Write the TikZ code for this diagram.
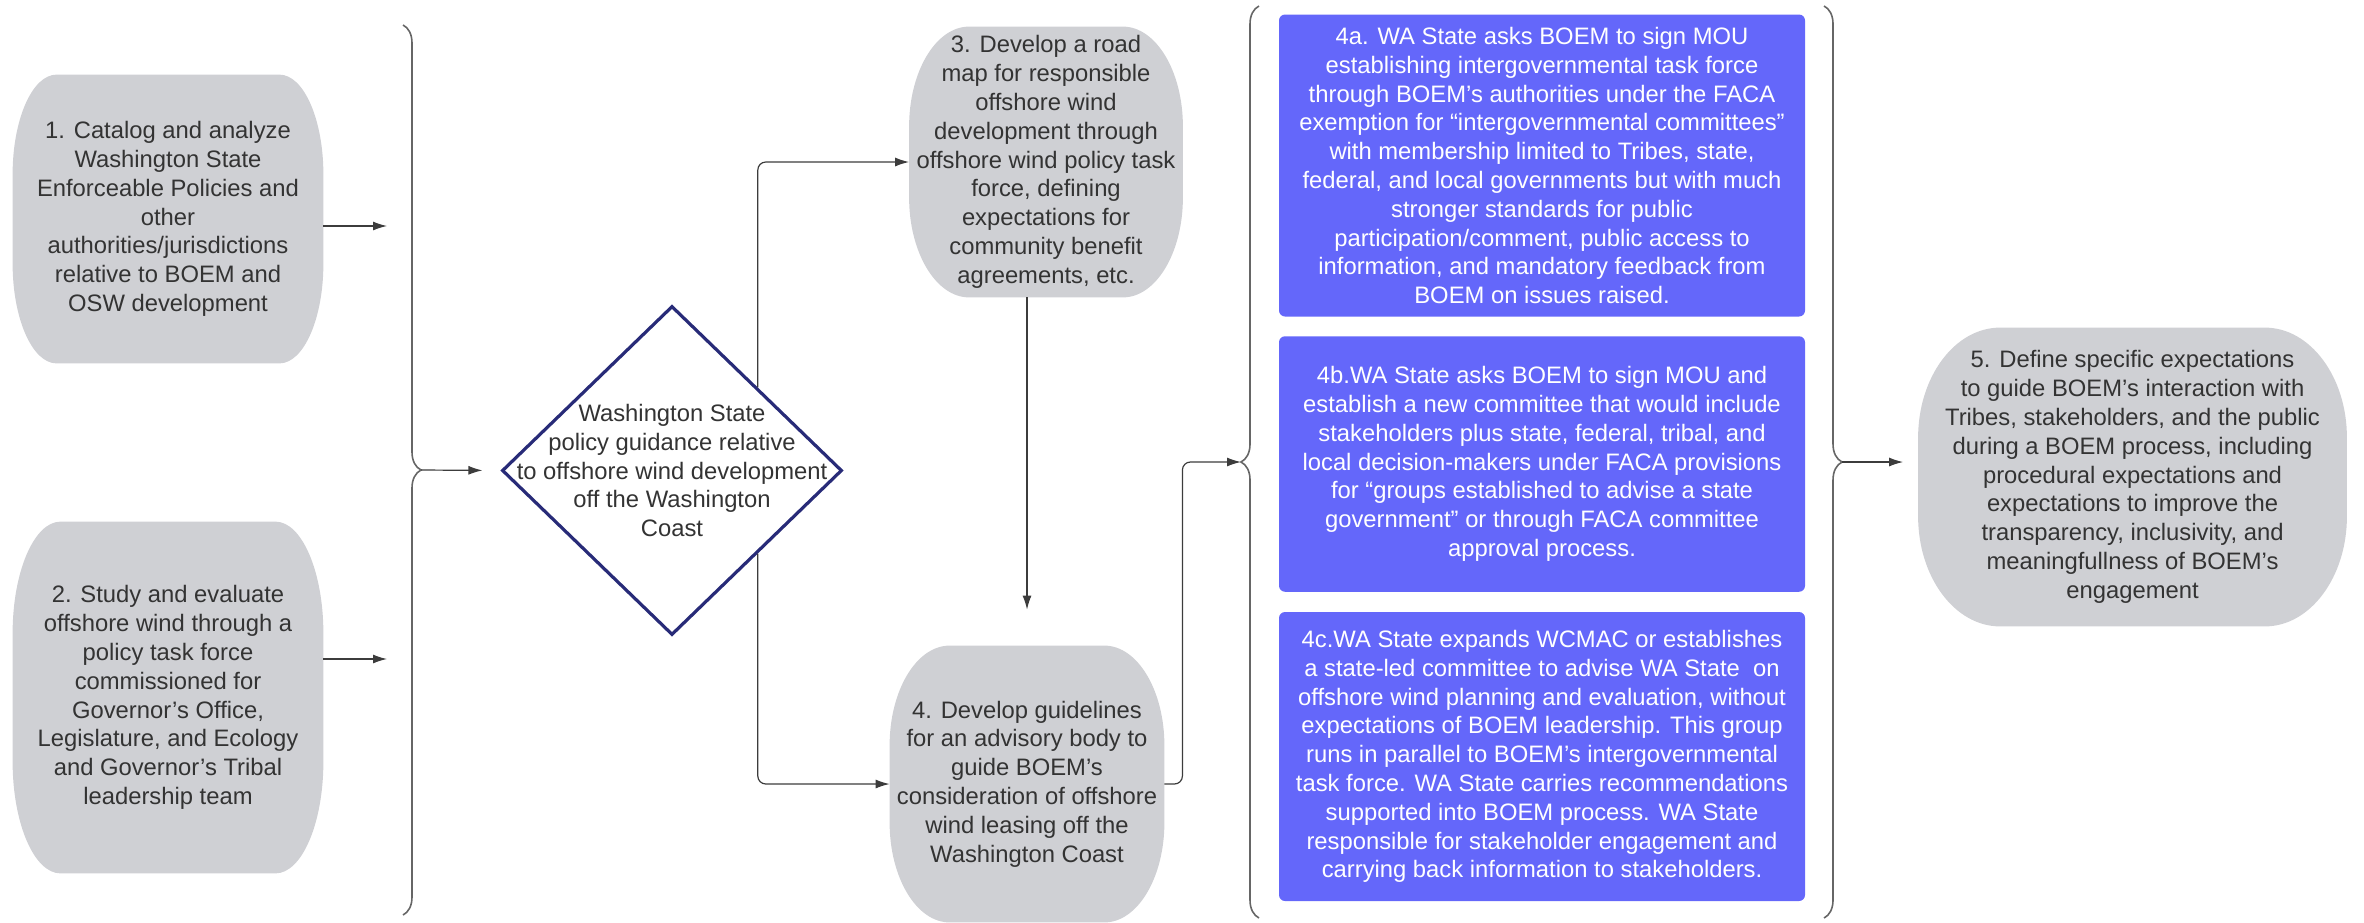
\documentclass[tikz,border=0pt]{standalone}
\usepackage{fontspec}
\setmainfont{Liberation Sans}
\usetikzlibrary{positioning, arrows.meta, calc, backgrounds, shapes.geometric, decorations.pathreplacing}
\definecolor{boxgrey}{RGB}{207,208,212}
\definecolor{optblue}{RGB}{100,103,250}
\definecolor{navy}{RGB}{40,43,120}
\definecolor{ink}{RGB}{51,51,51}
\definecolor{wire}{RGB}{60,60,60}

\begin{document}
\begin{tikzpicture}[x=0.5pt, y=-0.5pt]
		\tikzstyle{box} = [inner sep=0, align=center, text=ink, font=\fontsize{11.9}{14.4}\selectfont]
		\tikzstyle{opt} = [box, fill=optblue, text=white, rounded corners=3pt, minimum width=263pt]
		\tikzstyle{dec} = [diamond, draw=navy, line width=1.6pt, minimum width=170pt, minimum height=164.5pt, inner sep=0]
		\tikzstyle{arr} = [-{Latex[length=7pt,width=4.5pt]}, draw=wire, line width=0.6pt]
		\tikzstyle{curly} = [decorate, decoration={brace, amplitude=9pt}, draw=gray!80!black, line width=0.8pt]
		\useasboundingbox (0,0) rectangle (2364,922);
		
		\node [box, minimum width=155pt, minimum height=144pt] (s1) at (168,219) {1. Catalog and analyze\\Washington State\\Enforceable Policies and\\other\\authorities/jurisdictions\\relative to BOEM and\\OSW development};
		\node [box, minimum width=155pt, minimum height=175.5pt] (s2) at (168,697.5) {2. Study and evaluate\\offshore wind through a\\policy task force\\commissioned for\\Governor's Office,\\Legislature, and Ecology\\and Governor's Tribal\\leadership team};
		\node [dec, label={[box]center:{Washington State\\policy guidance relative\\to offshore wind development\\off the Washington\\Coast}}] (pol) at (672,470.5) {};
		\node [box, minimum width=136.5pt, minimum height=135pt] (s3) at (1046,162) {3. Develop a road\\map for responsible\\offshore wind\\development through\\offshore wind policy task\\force, defining\\expectations for\\community benefit\\agreements, etc.};
		\node [box, minimum width=137pt, minimum height=138pt] (s4) at (1027,784) {4. Develop guidelines\\for an advisory body to\\guide BOEM's\\consideration of offshore\\wind leasing off the\\Washington Coast};
		\node [opt, minimum height=151pt] (s4a) at (1542,165.5) {4a. WA State asks BOEM to sign MOU\\establishing intergovernmental task force\\through BOEM's authorities under the FACA\\exemption for “intergovernmental committees”\\with membership limited to Tribes, state,\\federal, and local governments but with much\\stronger standards for public\\participation/comment, public access to\\information, and mandatory feedback from\\BOEM on issues raised.};
		\node [opt, minimum height=127.75pt] (s4b) at (1542,464) {4b.WA State asks BOEM to sign MOU and\\establish a new committee that would include\\stakeholders plus state, federal, tribal, and\\local decision-makers under FACA provisions\\for “groups established to advise a state\\government” or through FACA committee\\approval process.};
		\node [opt, minimum height=144.5pt] (s4c) at (1542,756.5) {4c.WA State expands WCMAC or establishes\\a state-led committee to advise WA State\ \ on\\offshore wind planning and evaluation, without\\expectations of BOEM leadership. This group\\runs in parallel to BOEM's intergovernmental\\task force. WA State carries recommendations\\supported into BOEM process. WA State\\responsible for stakeholder engagement and\\carrying back information to stakeholders.};
		\node [box, minimum width=214pt, minimum height=149pt] (s5) at (2132.5,477) {5. Define specific expectations\\to guide BOEM's interaction with\\Tribes, stakeholders, and the public\\during a BOEM process, including\\procedural expectations and\\expectations to improve the\\transparency, inclusivity, and\\meaningfullness of BOEM's\\engagement};
		
		% grey blobs behind the step texts (node / corner x radius / corner y radius)
		\begin{scope}[on background layer]
		\foreach \n/\rx/\ry in {s1/22/50, s2/24/56, s3/30/50, s4/30/50, s5/41/55}
		\fill [boxgrey] ([xshift=\rx pt]\n.north west) -- ([xshift=-\rx pt]\n.north east)
		arc [start angle=90, end angle=0, x radius=\rx pt, y radius=\ry pt] -- ([yshift=\ry pt]\n.south east)
		arc [start angle=0, end angle=-90, x radius=\rx pt, y radius=\ry pt] -- ([xshift=\rx pt]\n.south west)
		arc [start angle=270, end angle=180, x radius=\rx pt, y radius=\ry pt] -- ([yshift=-\ry pt]\n.north west)
		arc [start angle=180, end angle=90, x radius=\rx pt, y radius=\ry pt] -- cycle;
		\end{scope}
		
		% braces
		\draw [curly] (403,25) -- (403,915);
		\draw [curly] (1259,918) -- (1259,6);
		\draw [curly] (1824,6) -- (1824,918);
		\coordinate (t1) at (421,470);
		\coordinate (t2) at (1241,462);
		\coordinate (t3) at (1842,462);
		\coordinate (e1) at (387,226);
		\coordinate (e2) at (387,659);
		
		\draw [arr] (s1.east |- e1) -- (e1);
		\draw [arr] (s2.east |- e2) -- (e2);
		\draw [arr, shorten >=9pt] (t1) -- (pol.west);
		\draw [arr, rounded corners=4pt] (pol.north east) |- (s3.west);
		\draw [arr, rounded corners=4pt] (pol.south east) |- (s4.west);
		\draw [arr] (s3.south -| s4.north) -- ([yshift=18pt]s4.north);
		\draw [arr, rounded corners=4pt] (s4.east) -- ++(9pt,0) |- (t2);
		\draw [arr, shorten >=7.5pt] (t3) -- (t3 -| s5.west);
\end{tikzpicture}
\end{document}
